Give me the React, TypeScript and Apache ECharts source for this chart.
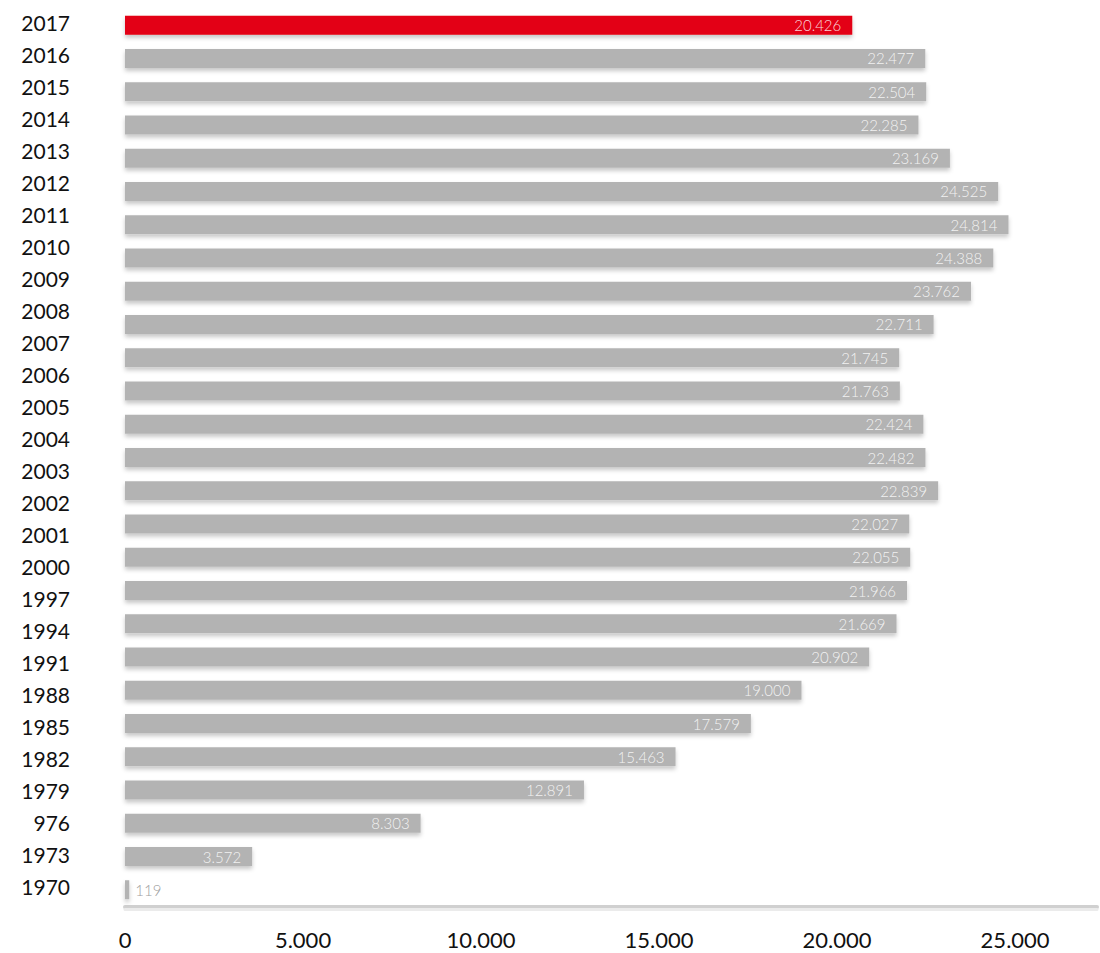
import React, { useEffect, useRef } from "react";
import * as echarts from "echarts";

// Row labels on the left, top to bottom (as printed in the reference)
const yearLabels = [
  "2017", "2016", "2015", "2014", "2013", "2012", "2011", "2010", "2009", "2008",
  "2007", "2006", "2005", "2004", "2003", "2002", "2001", "2000", "1997", "1994",
  "1991", "1988", "1985", "1982", "1979", "976", "1973", "1970",
];

// Bar values, top to bottom (27 bars as drawn in the reference)
const barValues = [
  20426, 22477, 22504, 22285, 23169, 24525, 24814, 24388, 23762, 22711,
  21745, 21763, 22424, 22482, 22839, 22027, 22055, 21966, 21669, 20902,
  19000, 17579, 15463, 12891, 8303, 3572, 119,
];

const xTicks = [0, 5000, 10000, 15000, 20000, 25000];

const fmt = (n: number) => String(n).replace(/\B(?=(\d{3})+(?!\d))/g, ".");

export default function App() {
  const ref = useRef<HTMLDivElement>(null);
  useEffect(() => {
    if (!ref.current) return;
    const chart = echarts.init(ref.current, null, { renderer: "svg" });
    const barCats = barValues.map((_, i) => "b" + i);
    const xMax = 27300;
    chart.setOption({
      animation: false,
      backgroundColor: "#ffffff",
      grid: [
        { left: 125, right: 0, top: 6, height: 896 },
        { left: 125, right: 0, top: 8.5, height: 898 },
      ],
      xAxis: [
        { type: "value", gridIndex: 0, show: false },
        {
          type: "value",
          gridIndex: 1,
          min: 0,
          max: xMax,
          interval: 5000,
          splitLine: { show: false },
          axisTick: { show: false },
          axisLine: {
            show: true,
            lineStyle: { color: "#d0d0d0", width: 4 },
          },
          axisLabel: {
            margin: 22,
            fontFamily: "Lato",
            fontSize: 22,
            color: "#111",
            formatter: (v: number) => (xTicks.indexOf(v) >= 0 ? fmt(v) : ""),
          },
        },
        {
          type: "value",
          gridIndex: 1,
          min: 0,
          max: xMax,
          position: "bottom",
          offset: 3,
          splitLine: { show: false },
          axisTick: { show: false },
          axisLabel: { show: false },
          axisLine: { show: true, lineStyle: { color: "#ebebeb", width: 3 } },
        },
      ],
      yAxis: [
        {
          type: "category",
          gridIndex: 0,
          inverse: true,
          data: yearLabels,
          axisLine: { show: false },
          axisTick: { show: false },
          axisLabel: {
            margin: 55,
            fontFamily: "Lato",
            fontSize: 21,
            color: "#111",
          },
        },
        {
          type: "category",
          gridIndex: 1,
          inverse: true,
          data: barCats,
          show: false,
        },
      ],
      series: [
        {
          type: "bar",
          xAxisIndex: 1,
          yAxisIndex: 1,
          barWidth: 19,
          data: barValues.map((v, i) => ({
            value: v,
            itemStyle: { color: i === 0 ? "#e30613" : "#b3b3b3" },
            label:
              i === barValues.length - 1
                ? { position: "right", distance: 6, color: "#a0a0a0" }
                : undefined,
          })),
          itemStyle: {
            shadowColor: "rgba(0,0,0,0.22)",
            shadowBlur: 4,
            shadowOffsetY: 3,
          },
          label: {
            show: true,
            position: "insideRight",
            distance: 11,
            fontFamily: "Lato",
            fontWeight: 300,
            fontSize: 15,
            color: "rgba(255,255,255,0.85)",
            formatter: (p: any) => fmt(p.value),
          },
        },
      ],
    });
    return () => chart.dispose();
  }, []);
  return (
    <div
      ref={ref}
      style={{ position: "absolute", left: 0, top: 0, width: 1100, height: 953 }}
    />
  );
}
